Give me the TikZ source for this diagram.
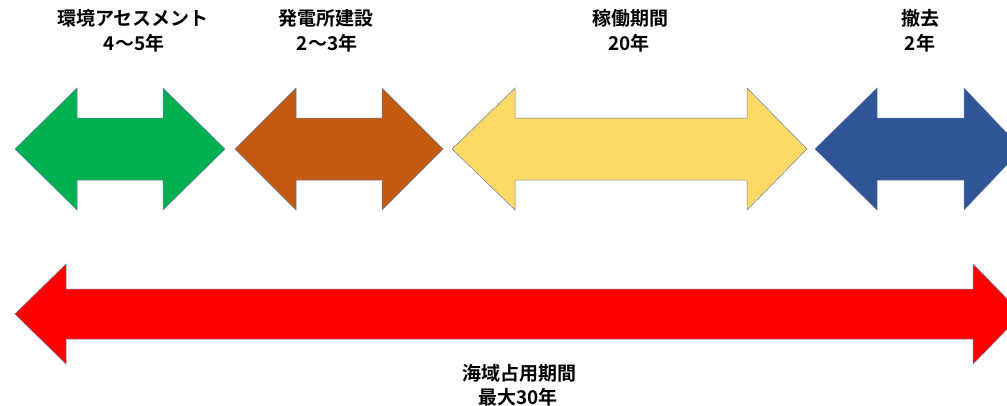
\documentclass[tikz,border=0pt]{standalone}
\usepackage{fontspec}
\newfontfamily\jpfont{Noto Sans CJK JP}[BoldFont={Noto Sans CJK JP Bold}]
\definecolor{cgreen}{HTML}{00B050}
\definecolor{cbrown}{HTML}{C55A11}
\definecolor{cyellow}{HTML}{FFD966}
\definecolor{cblue}{HTML}{2F5597}
\definecolor{cred}{HTML}{FF0000}
\definecolor{cedge}{HTML}{6A7FA8}
\tikzset{
  lbl/.style={inner sep=0pt, anchor=base, font=\jpfont\bfseries\fontsize{19}{25}\selectfont},
  shape arrow/.style={draw=cedge, line width=0.5pt, line join=miter}
}
% #1 left tip, #2 left head base, #3 right head base, #4 right tip,
% #5 centre y, #6 head half height, #7 shaft half height, #8 fill colour
\newcommand\dblarrow[8]{%
  \draw[shape arrow, fill=#8]
    (#1,#5) -- (#2,#5-#6) -- (#2,#5-#7) -- (#3,#5-#7) -- (#3,#5-#6)
    -- (#4,#5) -- (#3,#5+#6) -- (#3,#5+#7) -- (#2,#5+#7) -- (#2,#5+#6) -- cycle;}
\begin{document}
\begin{tikzpicture}[x=1pt,y=-1pt]
\useasboundingbox (0,0) rectangle (1007,405);
\clip (0,0) rectangle (1007,405);
\fill[white] (0,0) rectangle (1007,405);
% phase arrows
\dblarrow{15}{77}{163}{225}{149}{61}{31}{cgreen}
\dblarrow{235}{296}{382}{443}{149}{61}{31}{cbrown}
\dblarrow{452}{515}{747}{807}{149}{61}{31}{cyellow}
\dblarrow{815}{877}{964}{1022}{149}{61}{31}{cblue}
% total arrow
\dblarrow{15}{66}{973}{1022}{314}{50}{25}{cred}
% labels
\node[lbl] (g1) at (133,25) {環境アセスメント};
\node[lbl] (g2) at (134,50) {4〜5年};
\node[lbl] (b1) at (326,25) {発電所建設};
\node[lbl] (b2) at (327,50) {2〜3年};
\node[lbl] (y1) at (630,25) {稼働期間};
\node[lbl] (y2) at (629,50) {20年};
\node[lbl] (u1) at (920,25) {撤去};
\node[lbl] (u2) at (920,50) {2年};
\node[lbl] (r1) at (519,380) {海域占用期間};
\node[lbl] (r2) at (518,404) {最大30年};
\end{tikzpicture}
\end{document}
